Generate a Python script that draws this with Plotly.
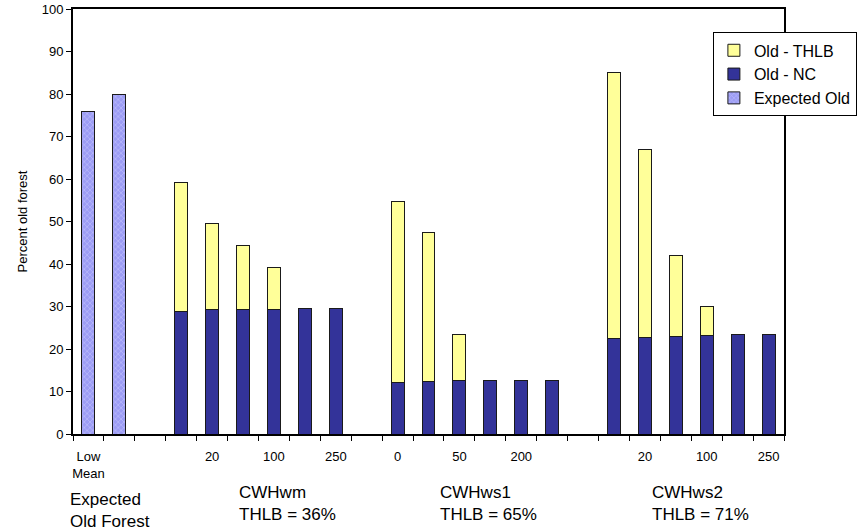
import plotly.graph_objects as go

# ---- data ----
categories = ["Low", "Mean", "",
              "0", "20", "50", "100", "200", "250", "",
              "0", "20", "50", "100", "200", "250", "",
              "0", "20", "50", "100", "200", "250"]

expected_old = [76.0, 80.0]                       # slots Low, Mean

cwhwm_nc = [28.9, 29.2, 29.3, 29.4, 29.6, 29.6]
cwhwm_total = [59.1, 49.6, 44.3, 39.2, 29.6, 29.6]

cwhws1_nc = [12.2, 12.3, 12.5, 12.6, 12.6, 12.6]
cwhws1_total = [54.6, 47.5, 23.3, 12.6, 12.6, 12.6]

cwhws2_nc = [22.4, 22.6, 22.9, 23.1, 23.3, 23.3]
cwhws2_total = [85.0, 67.0, 42.0, 30.0, 23.3, 23.3]

tick_labels = ["Low<br>Mean", "", "20", "100", "250", "0", "50", "200", "", "20", "100", "250"]

group_titles = ["Expected<br>Old Forest", "CWHwm<br>THLB = 36%",
                "CWHws1<br>THLB = 65%", "CWHws2<br>THLB = 71%"]

# ---- positions (slot indices) ----
n = len(categories)
x_expected = [0, 1]
x_wm = list(range(3, 9))
x_ws1 = list(range(10, 16))
x_ws2 = list(range(17, 23))

x_all = x_wm + x_ws1 + x_ws2
nc_all = cwhwm_nc + cwhws1_nc + cwhws2_nc
tot_all = cwhwm_total + cwhws1_total + cwhws2_total
thlb_all = [round(t - c, 2) for t, c in zip(tot_all, nc_all)]

FONT = "Liberation Sans, Arial, sans-serif"
outline = dict(color="#1a1a1a", width=1)

fig = go.Figure()
fig.add_trace(go.Bar(
    x=x_expected, y=expected_old, name="Expected Old", legendrank=3,
    marker=dict(color="#9c9cf4", line=outline,
                pattern=dict(shape="x", fgcolor="#d6d6ff", bgcolor="#9c9cf4",
                             size=4, solidity=0.35)),
))
fig.add_trace(go.Bar(
    x=x_all, y=nc_all, name="Old - NC", legendrank=2,
    marker=dict(color="#333399", line=outline),
))
fig.add_trace(go.Bar(
    x=x_all, y=thlb_all, name="Old - THLB", legendrank=1,
    marker=dict(color="#ffff99", line=outline),
))

fig.update_layout(
    width=859, height=532,
    margin=dict(l=73, r=75, t=9, b=98, autoexpand=False),
    paper_bgcolor="white", plot_bgcolor="white",
    barmode="stack", bargap=0.58,
    font=dict(family=FONT, size=13, color="black"),
    showlegend=True,
    legend=dict(x=0.9, y=0.945, xanchor="left", yanchor="top",
                bgcolor="white", bordercolor="black", borderwidth=1,
                font=dict(size=16), traceorder="normal",
                itemwidth=30, tracegroupgap=0),
)

fig.update_xaxes(
    range=[-0.5, n - 0.5], automargin=False,
    showline=True, linecolor="black", linewidth=2, mirror=True,
    showgrid=False, zeroline=False,
    tickmode="array",
    tickvals=list(range(0, n, 2)),
    ticktext=tick_labels,
    ticks="outside", ticklen=9, tickcolor="rgba(0,0,0,0)",
    tickfont=dict(size=13),
    minor=dict(tickmode="array", tickvals=[i - 0.5 for i in range(n + 1)],
               ticks="outside", ticklen=5, tickcolor="black", tickwidth=1,
               showgrid=False),
)
fig.update_yaxes(
    range=[0, 100], dtick=10, automargin=False,
    showline=True, linecolor="black", linewidth=2, mirror=True,
    showgrid=False, zeroline=False,
    ticks="outside", ticklen=5, tickcolor="black",
    tickfont=dict(size=13),
    title=dict(text="Percent old forest", font=dict(size=13), standoff=11),
)

ann_x = [-0.007, 0.2307, 0.5134, 0.8115]
ann_y = [-0.127, -0.111, -0.111, -0.111]
for txt, ax, ay in zip(group_titles, ann_x, ann_y):
    fig.add_annotation(text=txt, x=ax, y=ay, xref="paper", yref="paper",
                       xanchor="left", yanchor="top", align="left",
                       showarrow=False, font=dict(size=17))

fig.write_html("out.html", config={"displayModeBar": False},
               post_script="document.body.style.margin='0';")
